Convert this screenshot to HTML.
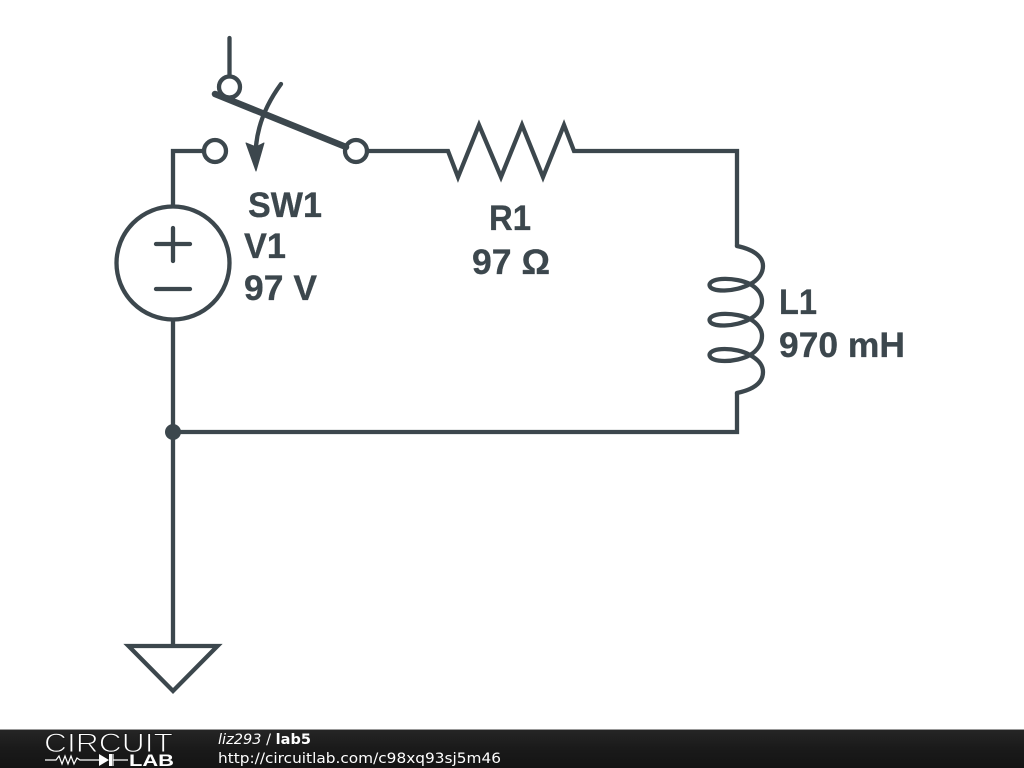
<!DOCTYPE html>
<html><head><meta charset="utf-8"><style>
html,body{margin:0;padding:0;background:#fff;width:1024px;height:768px;overflow:hidden}
svg{display:block}
.l{font-family:"Liberation Sans",sans-serif;font-weight:bold;font-size:35.400px;fill:#3c474d;stroke:#3c474d;stroke-width:.3px}
.f{font-family:"DejaVu Sans",sans-serif;font-size:14.500px;fill:#fff}
</style></head><body>
<svg width="1024" height="768" viewBox="0 0 1024 768" xmlns="http://www.w3.org/2000/svg">
<defs><linearGradient id="g" x1="0" y1="0" x2="0" y2="1"><stop offset="0" stop-color="#262626"/><stop offset=".5" stop-color="#1a1a1a"/><stop offset="1" stop-color="#141414"/></linearGradient></defs>
<rect width="1024" height="768" fill="#fff"/>
<g fill="none" stroke="#3c474d" stroke-width="4.300" stroke-linecap="round" stroke-linejoin="miter">
<path d="M229.500 38V76"/>
<circle cx="229.500" cy="87" r="10.500"/>
<circle cx="215" cy="151" r="11"/>
<circle cx="356" cy="151" r="11"/>
<path d="M204 151H173V206"/>
<path d="M215 94L346 147" stroke-width="6.500"/>
<path d="M281 84Q259 114 256 146"/>
<path d="M367 151H448L458 177L479 125L501 177L522 125L543 177L564 125L574 151H737V246"/>
<circle cx="173" cy="263" r="56.500"/>
<path d="M173 228V261M156 244H190M156 289H190" />
<path d="M173 320V645"/>
<path d="M173 432H737V393"/>
<path d="M737 246C756 250 763 258 763 266C763 274 757 281 750 284C736 292 710 293 709.500 285C710 277 736 277 750 284C757 288 762 294 762 301C762 309 757 315 750 319C736 327 710 328 709.500 320C710 312 736 312 750 319C757 323 762 329 762 336C762 344 757 351 750 355C736 363 710 363 709.500 355C710 347 736 347 750 355C757 359 763 364 763 372C763 381 756 389 737 393"/>
<path d="M128.500 646H217.500L173 691Z"/>
</g>
<path d="M256 171L246 143L256 147L264 143Z" fill="#3c474d" stroke="#3c474d" stroke-width="1" stroke-linejoin="round"/>
<circle cx="173" cy="432" r="8" fill="#3c474d"/>
<text class="l" x="248" y="217" textLength="74" lengthAdjust="spacingAndGlyphs">SW1</text>
<text class="l" x="244" y="258" textLength="42" lengthAdjust="spacingAndGlyphs">V1</text>
<text class="l" x="244" y="300" textLength="73" lengthAdjust="spacingAndGlyphs">97 V</text>
<text class="l" x="489" y="230" textLength="42" lengthAdjust="spacingAndGlyphs">R1</text>
<text class="l" x="472" y="274" textLength="78" lengthAdjust="spacingAndGlyphs">97 Ω</text>
<text class="l" x="779" y="314" textLength="38" lengthAdjust="spacingAndGlyphs">L1</text>
<text class="l" x="779" y="357" textLength="126" lengthAdjust="spacingAndGlyphs">970 mH</text>
<rect y="729" width="1024" height="39" fill="url(#g)"/>
<rect y="729" width="1024" height="1" fill="#999"/>
<text x="44" y="752" font-family="Liberation Sans,sans-serif" font-size="27" fill="#fff" stroke="#1c1c1c" stroke-width="1" textLength="129" lengthAdjust="spacingAndGlyphs">CIRCUIT</text>
<path d="M45 760H56L59 756L62 764L65 756L68 764L71 756L74 764L77 758L80 760H100M113 754V766M113 760H128" fill="none" stroke="#fff" stroke-width="1.200"/>
<path d="M99 754L109 760L99 766Z M109 754H112V766H109Z" fill="#fff"/>
<text x="129" y="766" font-family="Liberation Sans,sans-serif" font-size="17" font-weight="bold" fill="#fff" textLength="45" lengthAdjust="spacingAndGlyphs">LAB</text>
<text class="f" x="218" y="744" textLength="93" lengthAdjust="spacing"><tspan font-style="italic">liz293</tspan> / <tspan font-weight="bold">lab5</tspan></text>
<text class="f" x="218" y="763" textLength="283" lengthAdjust="spacingAndGlyphs">http://circuitlab.com/c98xq93sj5m46</text>
</svg>
</body></html>
